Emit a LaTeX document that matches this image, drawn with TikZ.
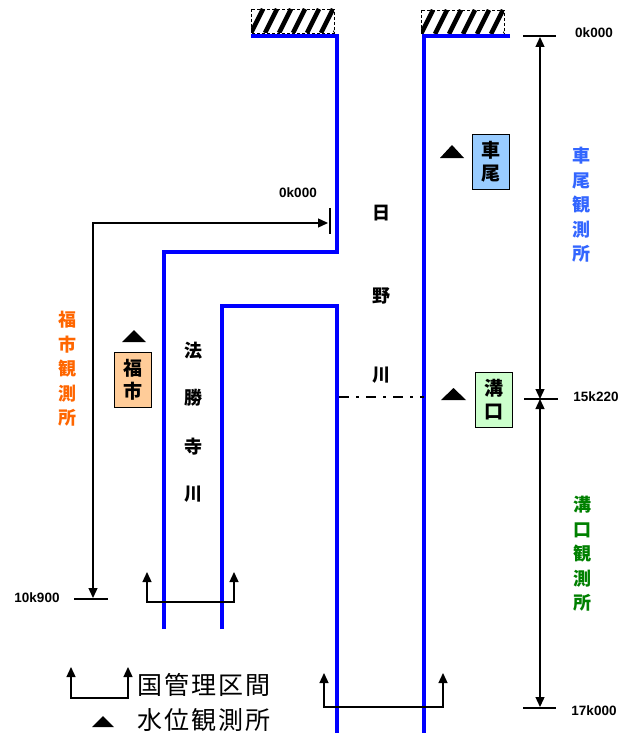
\documentclass[tikz,border=0pt]{standalone}
\usepackage{fontspec}
\setmainfont{Liberation Sans}
\newfontfamily\jp{Noto Sans CJK JP}
\usetikzlibrary{arrows.meta}
\definecolor{riverblue}{HTML}{0000FF}
\definecolor{orangetxt}{HTML}{FF6600}
\definecolor{bluetxt}{HTML}{3366FF}
\definecolor{greentxt}{HTML}{008000}
\definecolor{orangefill}{HTML}{FFCC99}
\definecolor{bluefill}{HTML}{99CCFF}
\definecolor{greenfill}{HTML}{CCFFCC}
\tikzset{
  river/.style={draw=riverblue, line width=3.8pt},
  dim/.style={draw=black, line width=1.3pt},
  tip/.style={-{Triangle[length=10pt,width=9pt]}},
  twotip/.style={{Triangle[length=10pt,width=9pt]}-{Triangle[length=10pt,width=9pt]}},
  km/.style={font=\bfseries\fontsize{13.5}{15}\selectfont, inner sep=0pt},
  jlab/.style={font=\jp\bfseries\fontsize{18}{18}\selectfont, inner sep=0pt},
  vlab/.style={font=\jp\bfseries\fontsize{18}{24.5}\selectfont, inner sep=0pt, align=center},
  stbox/.style={draw=black, line width=1.2pt, minimum width=37pt, minimum height=55pt, inner sep=0pt, align=center, font=\jp\bfseries\fontsize{19}{23}\selectfont},
  marker/.style={fill=black, draw=none},
  legend/.style={font=\jp\fontsize{25}{26}\selectfont\addfontfeature{LetterSpace=8}, inner sep=0pt, anchor=west},
}
\begin{document}
\begin{tikzpicture}[x=1pt,y=-1pt]
\useasboundingbox (0,0) rectangle (620,733);
% hatched boxes
\foreach \x/\y in {251/9, 421/10}{
  \begin{scope}
    \clip (\x,\y) rectangle ++(83,24);
    \foreach \i in {-2,...,8}{
      \draw[line width=4.5pt] (\x+\i*14,\y+24) -- ++(12,-24);
    }
  \end{scope}
  \draw[densely dashed, line width=0.6pt] (\x,\y) rectangle ++(83,24);
}
% rivers
\draw[river] (251,36) -- (337,36) -- (337,252) -- (164,252) -- (164,629);
\draw[river] (222,629) -- (222,306) -- (337,306) -- (337,733);
\draw[river] (510,36) -- (424,36) -- (424,733);
% dash-dot
\draw[line width=1.8pt, dash pattern=on 10pt off 7pt on 3pt off 7pt] (339,397) -- (424,397);
% Hino labels
\node[jlab] (hi) at (381,213) {日};
\node[jlab] (no) at (381,296) {野};
\node[jlab] (ka1) at (381,375) {川};
% Hosshoji labels
\node[jlab] (ho) at (193,351) {法};
\node[jlab] (sho) at (193,398) {勝};
\node[jlab] (ji) at (193,447) {寺};
\node[jlab] (ka2) at (193,494) {川};
% Fukuichi dimension
\coordinate (fkTop) at (328,223);
\coordinate (fkBot) at (93,598);
\draw[dim] (330,208) -- (330,234);
\draw[dim] (74,599) -- (108,599);
\draw[dim, twotip] (fkBot) |- (fkTop);
\node[km] (k0a) at (298,193) {0k000};
\node[km] (k109) at (37,598) {10k900};
\node[vlab, text=orangetxt] (fkobs) at (67,369) {福\\市\\観\\測\\所};
% right dimensions
\coordinate (rTop) at (540,37);
\coordinate (rMid) at (540,399);
\coordinate (rBot) at (540,707);
\draw[dim] (523,36) -- (556,36);
\draw[dim] (524,399) -- (558,399);
\draw[dim] (523,708) -- (556,708);
\draw[dim, twotip] (rTop) -- (rMid);
\draw[dim, twotip] (rMid) -- (rBot);
\node[km] (k0b) at (594,33) {0k000};
\node[km] (k152) at (596,397) {15k220};
\node[km] (k170) at (594,711) {17k000};
\node[vlab, text=bluetxt] (kuobs) at (581,205) {車\\尾\\観\\測\\所};
\node[vlab, text=greentxt] (mzobs) at (582,554) {溝\\口\\観\\測\\所};
% stations
\node[stbox, fill=orangefill] (fukuichi) at (133,380) {福\\市};
\node[stbox, fill=bluefill] (kuzumo) at (491,162) {車\\尾};
\node[stbox, fill=greenfill] (mizoguchi) at (494,400) {溝\\口};
\fill[marker] (122,342) -- (146,342) -- (134,330) -- cycle;
\fill[marker] (440,158) -- (464,158) -- (452,145) -- cycle;
\fill[marker] (441,400) -- (466,400) -- (453.5,388) -- cycle;
% national management brackets
\coordinate (hsL) at (147,572);
\coordinate (hsR) at (234,572);
\draw[dim, twotip] (hsL) |- (190,602) -| (hsR);
\coordinate (hnL) at (324,673);
\coordinate (hnR) at (443,673);
\draw[dim, twotip] (hnL) |- (380,707) -| (hnR);
% legend
\coordinate (lgL) at (71,667);
\coordinate (lgR) at (128,667);
\draw[dim, twotip] (lgL) |- (100,698) -| (lgR);
\node[legend] (lg1) at (137,685) {国管理区間};
\fill[marker] (92,727) -- (114,727) -- (103,716) -- cycle;
\node[legend] (lg2) at (137,720) {水位観測所};
\end{tikzpicture}
\end{document}
